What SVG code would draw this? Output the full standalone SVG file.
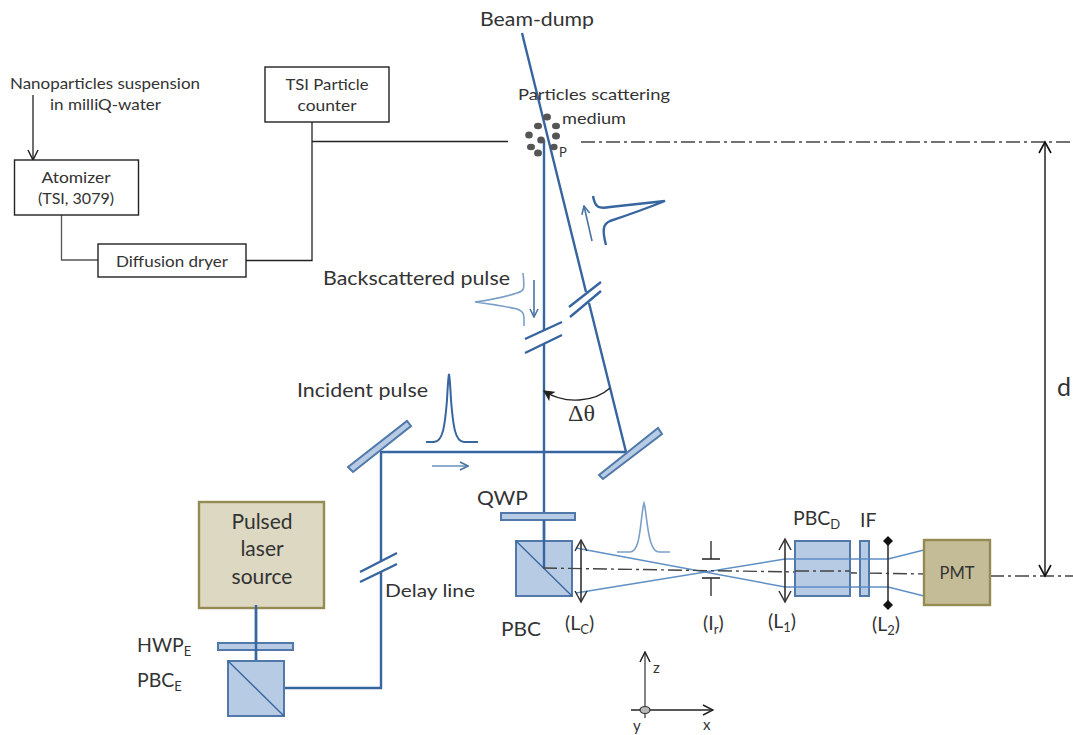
<svg xmlns="http://www.w3.org/2000/svg" width="1073" height="735" viewBox="0 0 1073 735">
<defs>
<marker id="ah" viewBox="0 0 12 12" refX="11" refY="6" markerWidth="12" markerHeight="12" markerUnits="userSpaceOnUse" orient="auto"><path d="M1 1L11 6L1 11" fill="none" stroke="#222" stroke-width="1.5"/></marker>
<marker id="ahf" viewBox="0 0 10 10" refX="9" refY="5" markerWidth="11" markerHeight="11" markerUnits="userSpaceOnUse" orient="auto"><path d="M1 1L9 5L1 9L3 5Z" fill="#222" stroke="#222" stroke-width="1"/></marker>
<marker id="ahb" viewBox="0 0 10 10" refX="9" refY="5" markerWidth="10" markerHeight="10" markerUnits="userSpaceOnUse" orient="auto"><path d="M1 1L9 5L1 9" fill="none" stroke="#4a74a4" stroke-width="1.6"/></marker>
<marker id="lens" viewBox="0 0 14 14" refX="12" refY="7" markerWidth="14" markerHeight="14" markerUnits="userSpaceOnUse" orient="auto-start-reverse"><path d="M1 1L12 7L1 13" fill="none" stroke="#333" stroke-width="1.5"/></marker>
<marker id="dia" viewBox="0 0 10 10" refX="5" refY="5" markerWidth="10" markerHeight="10" markerUnits="userSpaceOnUse"><path d="M5 0L10 5L5 10L0 5Z" fill="#111"/></marker>
</defs>
<style>
text{font-family:Lato,"Noto Sans","Liberation Sans",sans-serif;fill:#333}
.s{font-size:16px}.m{font-size:19.5px}
.sub{font-size:13px}
.box{fill:#fff;stroke:#222;stroke-width:1.4}
.beam{fill:none;stroke:#36659f;stroke-width:2.4}
.thin{fill:none;stroke:#7c9fc8;stroke-width:1.6}
.ray{fill:none;stroke:#5f8fc5;stroke-width:1.5}
.opt{fill:#b7cbe4;stroke:#5079aa;stroke-width:2}
.k{fill:none;stroke:#222;stroke-width:1.3}
.lensline{fill:none;stroke:#333;stroke-width:1.6}
.axis{fill:none;stroke:#444;stroke-width:1.4;stroke-dasharray:14 4 3 4}
.pt{fill:#555}
</style>

<g id="connectors">
<path class="k" d="M33 95V160" marker-end="url(#ah)"/>
<path class="k" style="stroke:#555" d="M61.5 215V260H98"/>
<path class="k" d="M246 260.500H312V122"/>
<path class="k" d="M312 141.500H508"/>
<path class="axis" d="M581 142H1073"/>
<path class="axis" d="M990 576H1073"/>
<path d="M1045 143V576" fill="none" stroke="#222" stroke-width="1.5"/>
<path d="M1039 153L1045 142L1051 153M1039 565L1045 576L1051 565" fill="none" stroke="#111" stroke-width="1.6"/>

<path class="beam" d="M544 140V331M544 344V568"/>
<path class="beam" d="M522 33L586 292M589 303L626 452"/>
<path class="beam" d="M285 688H381V571M381 561V452H626"/>
<path class="beam" d="M256 605V661"/>
<g stroke="#36659f" stroke-width="2.4" fill="none">
<path d="M360 572L397 553M360 582L397 564"/>
<path d="M525 339L562 322M525 353L562 335"/>
<path d="M569 307L601 282M570 317L601 291"/>
</g>
<path class="ray" d="M576 548L785 587H888L924 596"/>
<path class="ray" d="M576 593L785 559H888L924 550"/>
<path d="M610 388C595 402 565 405 544 391" fill="none" stroke="#222" stroke-width="1.3" marker-end="url(#ahf)"/>
<path d="M592 241L584 206" fill="none" stroke="#4a74a4" stroke-width="1.6" marker-end="url(#ahb)"/>
<path d="M534 280V317" fill="none" stroke="#4a74a4" stroke-width="1.6" marker-end="url(#ahb)"/>
<path d="M432 466H468" fill="none" stroke="#6a90bc" stroke-width="1.6" marker-end="url(#ahb)"/>
<path d="M645 718V652" fill="none" stroke="#777" stroke-width="1.8" marker-end="url(#ah)"/>
<path d="M631 710H713" class="k" marker-end="url(#ah)"/>
</g>

<g id="nano-label"><text class="s" x="10" y="89" textLength="190" lengthAdjust="spacingAndGlyphs">Nanoparticles suspension</text><text class="s" x="50" y="110" textLength="111" lengthAdjust="spacingAndGlyphs">in milliQ-water</text></g>
<g id="atomizer"><rect class="box" x="14.500" y="160" width="124" height="55"/><text class="s" x="76" y="183" text-anchor="middle" textLength="69" lengthAdjust="spacingAndGlyphs">Atomizer</text><text class="s" x="76" y="204" text-anchor="middle" textLength="76" lengthAdjust="spacingAndGlyphs">(TSI, 3079)</text></g>
<g id="dryer"><rect class="box" x="98" y="244" width="148" height="33"/><text class="s" x="172" y="267" text-anchor="middle" textLength="112" lengthAdjust="spacingAndGlyphs">Diffusion dryer</text></g>
<g id="counter"><rect class="box" x="265" y="67" width="124" height="55"/><text class="s" x="327" y="90" text-anchor="middle" textLength="83" lengthAdjust="spacingAndGlyphs">TSI Particle</text><text class="s" x="327" y="111" text-anchor="middle" textLength="59" lengthAdjust="spacingAndGlyphs">counter</text></g>

<g id="beam-dump"><text class="m" x="480" y="26" textLength="114" lengthAdjust="spacingAndGlyphs">Beam-dump</text></g>
<g id="particles">
<text class="s" x="518" y="100" textLength="152" lengthAdjust="spacingAndGlyphs">Particles scattering</text>
<text class="s" x="562" y="124" textLength="64" lengthAdjust="spacingAndGlyphs">medium</text>
<text x="559" y="157" style="font-size:13px">P</text>
<ellipse class="pt" cx="547" cy="117" rx="4" ry="3.5"/><ellipse class="pt" cx="538" cy="126" rx="4" ry="3.2"/><ellipse class="pt" cx="556" cy="126" rx="4" ry="3.2"/><ellipse class="pt" cx="529" cy="135" rx="3.8" ry="3.5"/><ellipse class="pt" cx="556" cy="136" rx="4" ry="3.5"/><ellipse class="pt" cx="541" cy="140" rx="3.8" ry="3.5"/><ellipse class="pt" cx="531" cy="147" rx="4" ry="3.2"/><ellipse class="pt" cx="554" cy="147" rx="3.6" ry="3.2"/><ellipse class="pt" cx="538" cy="153" rx="4" ry="3.5"/>
</g>

<g id="back-pulse-out"><path class="beam" d="M593 196C595 208 599 209 610 207L665 201C640 211 622 217 610 221C603 224 602 230 606 245"/></g>
<g id="backscattered"><text class="m" x="323" y="285" textLength="187" lengthAdjust="spacingAndGlyphs">Backscattered pulse</text><path class="thin" d="M523 273C525 290 524 291 517 293C505 297 490 300 475 302C490 304 505 306 517 309C525 312 524 315 524 326"/></g>
<g id="incident"><text class="m" x="297" y="397" textLength="131" lengthAdjust="spacingAndGlyphs">Incident pulse</text><path class="beam" style="stroke-width:2" d="M426 442H434C443 442 445 425 447 400C448 380 449 374 449 374C449 374 450 380 451 400C453 425 455 442 464 442H478"/></g>
<g id="delta-theta"><text x="568" y="421" style="font-family:'Liberation Serif',serif;font-size:24px">Δθ</text></g>

<g id="mirror-1"><polygon class="opt" points="348,467 407,421 411,426 353,472"/></g>
<g id="mirror-2"><polygon class="opt" points="599,475 658,428 662,434 603,479"/></g>
<g id="qwp"><rect class="opt" x="501" y="513" width="74" height="7"/><text class="m" x="477" y="505" textLength="51" lengthAdjust="spacingAndGlyphs">QWP</text></g>
<g id="pbc"><rect class="opt" x="516" y="541" width="56" height="55"/><path d="M516 541L572 596" stroke="#36659f" stroke-width="1.3"/><text class="m" x="501" y="636" textLength="40" lengthAdjust="spacingAndGlyphs">PBC</text></g>
<path d="M544 520V568" class="beam"/>
<path class="axis" d="M543 568L925 574"/>
<g id="lens-c"><path class="lensline" d="M581 540V602" marker-start="url(#lens)" marker-end="url(#lens)"/><text class="m" x="565" y="630">(L<tspan class="sub" dy="4">C</tspan><tspan dy="-4">)</tspan></text></g>
<g id="output-pulse"><path class="thin" d="M617 552H630C639 552 640 530 642 515C643 506 644 503 644 503C644 503 645 506 646 515C648 530 650 552 659 552H670"/></g>
<g id="iris"><path class="k" d="M711 541V559M702 559H720M702 578H720M711 578V596"/><text class="m" x="703" y="630">(I<tspan class="sub" dy="4">r</tspan><tspan dy="-4">)</tspan></text></g>
<g id="lens-1"><path class="lensline" d="M785 539V602" marker-start="url(#lens)" marker-end="url(#lens)"/><text class="m" x="768" y="628">(L<tspan class="sub" dy="4">1</tspan><tspan dy="-4">)</tspan></text></g>
<g id="pbc-d"><rect class="opt" x="795" y="541" width="55" height="55"/><path class="ray" d="M795 559H850M795 587H850"/><path class="axis" d="M795 571H850"/><text class="m" x="793" y="525">PBC<tspan class="sub" dy="4">D</tspan></text></g>
<g id="if"><rect class="opt" x="860" y="541" width="9" height="55"/><path class="ray" d="M860 559H869M860 587H869"/><text class="m" x="860" y="527">IF</text></g>
<g id="lens-2"><path class="lensline" d="M888 541V605" marker-start="url(#dia)" marker-end="url(#dia)"/><text class="m" x="872" y="631">(L<tspan class="sub" dy="4">2</tspan><tspan dy="-4">)</tspan></text></g>
<g id="pmt"><rect x="924" y="540" width="66" height="65" fill="#c4bc96" stroke="#948a54" stroke-width="2.4"/><text x="957" y="579" text-anchor="middle" style="font-size:16.5px">PMT</text></g>
<g id="d-label"><text x="1057" y="396" style="font-size:25px">d</text></g>

<g id="laser"><rect x="199" y="502" width="125" height="106" fill="#ddd8c2" stroke="#948a54" stroke-width="2.4"/><text x="262" y="529" text-anchor="middle" style="font-size:21px">Pulsed</text><text x="262" y="556" text-anchor="middle" style="font-size:21px">laser</text><text x="262" y="584" text-anchor="middle" style="font-size:21px">source</text></g>
<g id="hwp"><rect class="opt" x="218" y="643" width="75" height="7"/><text class="m" x="137" y="652">HWP<tspan class="sub" dy="4">E</tspan></text></g>
<path class="beam" d="M256 605V661"/>
<g id="pbc-e"><rect class="opt" x="228" y="661" width="56" height="55"/><path d="M228 661L284 716" stroke="#36659f" stroke-width="1.3"/><text class="m" x="137" y="687">PBC<tspan class="sub" dy="4">E</tspan></text></g>
<g id="delay"><text class="m" x="385" y="597" textLength="90" lengthAdjust="spacingAndGlyphs" style="font-size:18px">Delay line</text></g>
<g id="axes"><ellipse cx="645" cy="710" rx="5" ry="3.500" fill="#b9b9b9" stroke="#333" stroke-width="1.200"/><text x="653" y="673" style="font-size:15px">z</text><text x="703" y="730" style="font-size:15px">x</text><text x="633" y="731" style="font-size:15px">y</text></g>
</svg>
